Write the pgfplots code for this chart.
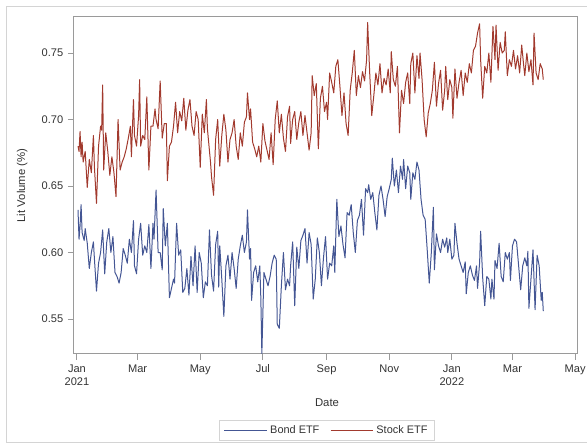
\documentclass[border=0pt]{standalone}
\usepackage{fontspec}
\setmainfont{Liberation Sans}
\usepackage{pgfplots}
\pgfplotsset{compat=1.18}
\definecolor{bondc}{HTML}{445694}
\definecolor{stockc}{HTML}{A23A2E}
\definecolor{txt}{HTML}{333333}
\definecolor{axc}{HTML}{9A9A9A}
\definecolor{framec}{HTML}{D4D4D4}
\begin{document}
\begin{tikzpicture}
\path[use as bounding box] (0,0) rectangle (440.25pt,333.75pt);
\begin{scope}
\clip (0,0) rectangle (440.25pt,333.75pt);
\draw[color=framec, line width=0.75pt] (4.5pt,1.5pt) rectangle (442pt,328.5pt);
\end{scope}
\begin{axis}[
  at={(55.5pt,68.25pt)}, anchor=south west,
  scale only axis, width=378pt, height=252.75pt,
  xmin=-2.9, xmax=487.8, ymin=0.5237, ymax=0.7771,
  axis line style={draw=axc, line width=0.75pt},
  tick style={draw=axc, line width=0.75pt},
  major tick length=4.5pt,
  tick align=outside, tick pos=left,
  xtick={0,59,120,181,243,304,365,424,485},
  xticklabels={{Jan\\2021},Mar,May,Jul,Sep,Nov,{Jan\\2022},Mar,May},
  xticklabel style={align=center, font=\fontsize{8.3pt}{9.8pt}\selectfont, text=txt},
  ytick={0.55,0.60,0.65,0.70,0.75},
  yticklabel style={font=\fontsize{8.3pt}{9.8pt}\selectfont, text=txt},
  /pgf/number format/assume math mode=true,
  yticklabel={\pgfmathprintnumber[fixed,precision=2,zerofill]{\tick}},
  xlabel={Date},
  ylabel={Lit Volume (\%)},
  xlabel style={at={(axis description cs:0.502,-0.145)}, anchor=center, font=\fontsize{8.5pt}{10pt}\selectfont, text=txt},
  ylabel style={at={(axis description cs:-0.103,0.5)}, anchor=center, font=\fontsize{8.5pt}{10pt}\selectfont, text=txt},
  legend columns=2,
  legend style={at={(axis description cs:0.502,-0.227)}, anchor=center, draw=framec, line width=0.75pt,
    font=\fontsize{8.2pt}{9pt}\selectfont, text=txt, inner xsep=3pt, inner ysep=1.5pt,
    /tikz/every even column/.append style={column sep=6pt}},
  legend image code/.code={\draw[#1, line width=0.75pt] (0pt,0pt) -- (32pt,0pt);},
  every axis plot/.append style={line width=0.75pt, line join=round, no markers},
]
\addplot[color=bondc] coordinates {
(1,0.632) (2,0.610) (3,0.620) (4,0.636) (5,0.615) (7,0.609) (8,0.618) (10,0.607) (12,0.588) (14,0.600)
(16,0.608) (17,0.595) (19,0.571) (21,0.592) (23,0.600) (25,0.617) (27,0.584) (29,0.608) (31,0.618) (33,0.600)
(35,0.612) (37,0.585) (39,0.582) (41,0.577) (43,0.585) (45,0.603) (47,0.598) (49,0.592) (51,0.610) (53,0.600)
(55,0.624) (56,0.590) (58,0.584) (60,0.610) (62,0.622) (64,0.598) (66,0.605) (68,0.600) (70,0.621) (72,0.588)
(74,0.622) (75,0.610) (77,0.647) (79,0.600) (81,0.600) (83,0.587) (84,0.633) (86,0.605) (88,0.622) (90,0.566)
(92,0.573) (94,0.580) (95,0.577) (97,0.622) (99,0.598) (101,0.602) (103,0.570) (105,0.573) (107,0.588) (109,0.568)
(111,0.597) (113,0.575) (115,0.605) (117,0.570) (119,0.600) (121,0.592) (123,0.566) (125,0.578) (127,0.575) (129,0.617)
(131,0.583) (133,0.571) (135,0.606) (137,0.616) (138,0.574) (139,0.605) (141,0.580) (143,0.552) (145,0.590) (147,0.598)
(149,0.580) (151,0.600) (153,0.588) (155,0.573) (157,0.595) (159,0.605) (161,0.613) (163,0.600) (165,0.608) (166,0.632)
(168,0.595) (169,0.603) (170,0.564) (172,0.585) (174,0.590) (176,0.578) (178,0.590) (179,0.566) (180,0.524) (182,0.585)
(184,0.580) (186,0.575) (188,0.582) (190,0.592) (192,0.598) (194,0.595) (195,0.546) (197,0.543) (199,0.575) (201,0.600)
(203,0.572) (205,0.580) (207,0.575) (208,0.590) (210,0.608) (212,0.560) (214,0.604) (216,0.588) (218,0.609) (220,0.613)
(222,0.618) (224,0.592) (226,0.615) (228,0.606) (230,0.565) (232,0.580) (234,0.611) (236,0.600) (238,0.575) (240,0.596)
(242,0.612) (244,0.580) (246,0.592) (248,0.590) (250,0.605) (251,0.585) (253,0.640) (255,0.612) (257,0.620) (259,0.606)
(261,0.596) (263,0.630) (265,0.628) (267,0.636) (269,0.615) (271,0.600) (273,0.624) (275,0.628) (277,0.640) (279,0.613)
(281,0.648) (283,0.645) (284,0.651) (286,0.640) (288,0.645) (290,0.630) (292,0.617) (294,0.643) (296,0.650) (298,0.640)
(300,0.627) (302,0.642) (304,0.648) (306,0.655) (307,0.671) (309,0.650) (311,0.662) (313,0.645) (315,0.665) (317,0.655)
(318,0.670) (320,0.648) (322,0.665) (324,0.660) (325,0.640) (327,0.660) (329,0.655) (331,0.668) (333,0.662) (335,0.640)
(337,0.628) (339,0.625) (341,0.602) (343,0.577) (345,0.600) (347,0.634) (348,0.587) (350,0.614) (352,0.605) (354,0.600)
(356,0.610) (358,0.604) (360,0.611) (361,0.600) (363,0.610) (365,0.595) (367,0.598) (368,0.622) (370,0.607) (372,0.595)
(374,0.590) (376,0.585) (378,0.593) (379,0.569) (381,0.585) (383,0.590) (385,0.583) (387,0.579) (389,0.590) (390,0.573)
(392,0.592) (393,0.616) (395,0.581) (397,0.560) (399,0.582) (401,0.580) (403,0.565) (404,0.580) (406,0.565) (407,0.594)
(409,0.588) (411,0.607) (413,0.582) (415,0.578) (417,0.600) (419,0.595) (421,0.600) (422,0.579) (424,0.605) (426,0.610)
(428,0.608) (430,0.590) (432,0.572) (434,0.590) (436,0.596) (438,0.590) (439,0.601) (440,0.558) (442,0.580) (444,0.602)
(446,0.557) (448,0.598) (450,0.590) (452,0.564) (453,0.570) (454,0.556)
};
\addlegendentry{Bond ETF}
\addplot[color=stockc] coordinates {
(1,0.680) (2,0.676) (3,0.691) (4,0.672) (5,0.683) (6,0.668) (8,0.676) (10,0.649) (12,0.670) (14,0.660)
(16,0.688) (17,0.664) (19,0.637) (21,0.680) (23,0.695) (24,0.692) (25,0.726) (26,0.662) (28,0.690) (30,0.676)
(32,0.658) (34,0.672) (36,0.660) (38,0.642) (40,0.700) (42,0.662) (44,0.668) (46,0.672) (48,0.678) (50,0.686)
(52,0.695) (53,0.672) (55,0.715) (56,0.688) (58,0.680) (60,0.703) (61,0.730) (62,0.680) (64,0.688) (66,0.685)
(68,0.717) (70,0.662) (72,0.695) (74,0.695) (76,0.708) (77,0.700) (79,0.693) (81,0.729) (83,0.686) (85,0.697)
(87,0.697) (88,0.654) (90,0.680) (92,0.683) (94,0.695) (96,0.713) (98,0.690) (100,0.706) (102,0.699) (104,0.716)
(106,0.692) (108,0.707) (110,0.715) (112,0.695) (114,0.688) (116,0.706) (118,0.700) (120,0.664) (122,0.704) (124,0.690)
(126,0.715) (127,0.693) (130,0.668) (131,0.657) (133,0.643) (135,0.685) (137,0.700) (139,0.665) (141,0.688) (143,0.704)
(145,0.692) (147,0.668) (149,0.685) (151,0.690) (153,0.700) (155,0.680) (157,0.670) (159,0.690) (161,0.680) (163,0.698)
(165,0.702) (166,0.720) (168,0.700) (169,0.708) (171,0.683) (173,0.678) (175,0.672) (177,0.680) (179,0.668) (181,0.697)
(183,0.684) (185,0.677) (187,0.670) (189,0.690) (191,0.666) (193,0.700) (195,0.714) (197,0.690) (199,0.704) (201,0.686)
(203,0.676) (205,0.702) (207,0.710) (208,0.682) (210,0.700) (212,0.706) (214,0.685) (216,0.698) (218,0.706) (220,0.688)
(222,0.703) (224,0.690) (226,0.677) (228,0.690) (229,0.733) (231,0.718) (233,0.727) (235,0.678) (237,0.716) (239,0.725)
(241,0.706) (243,0.713) (244,0.700) (246,0.735) (248,0.728) (250,0.720) (252,0.740) (254,0.745) (256,0.725) (258,0.703)
(260,0.720) (262,0.697) (264,0.688) (266,0.722) (268,0.735) (270,0.752) (272,0.718) (274,0.733) (276,0.724) (278,0.736)
(280,0.729) (282,0.745) (283,0.773) (285,0.735) (287,0.703) (289,0.718) (291,0.735) (293,0.726) (295,0.742) (297,0.720)
(299,0.731) (301,0.726) (303,0.738) (305,0.720) (306,0.751) (308,0.730) (310,0.725) (312,0.740) (314,0.690) (316,0.722)
(318,0.712) (320,0.728) (322,0.735) (324,0.712) (325,0.742) (327,0.750) (329,0.720) (331,0.748) (333,0.731) (334,0.750)
(336,0.730) (338,0.700) (340,0.687) (342,0.705) (344,0.712) (346,0.722) (348,0.743) (350,0.710) (352,0.727) (354,0.737)
(356,0.707) (358,0.722) (359,0.740) (361,0.715) (363,0.730) (365,0.724) (366,0.701) (368,0.738) (370,0.716) (372,0.728)
(374,0.737) (376,0.718) (378,0.735) (380,0.728) (382,0.742) (384,0.735) (386,0.752) (388,0.755) (390,0.765) (392,0.772)
(393,0.745) (395,0.716) (397,0.740) (399,0.735) (401,0.750) (403,0.728) (405,0.770) (407,0.745) (408,0.771) (410,0.737)
(412,0.758) (414,0.750) (416,0.752) (417,0.766) (419,0.733) (421,0.745) (423,0.740) (425,0.752) (427,0.738) (429,0.748)
(431,0.735) (433,0.756) (435,0.740) (436,0.733) (438,0.750) (440,0.736) (442,0.745) (444,0.726) (445,0.765) (447,0.735)
(449,0.730) (451,0.742) (453,0.738) (454,0.730)
};
\addlegendentry{Stock ETF}
\end{axis}
\end{tikzpicture}
\end{document}
